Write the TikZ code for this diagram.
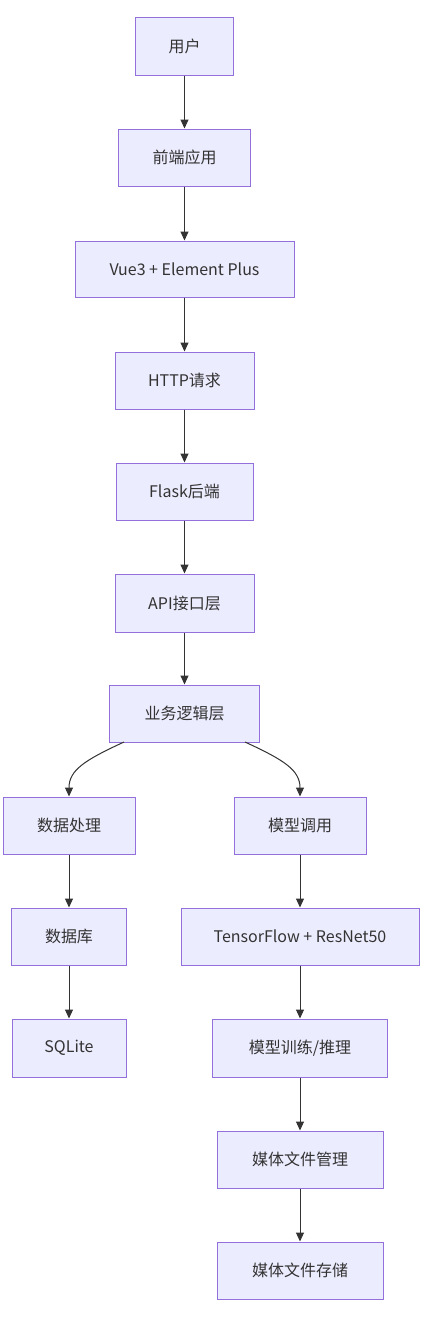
\documentclass[tikz,border=0pt]{standalone}
\usepackage{fontspec}
\setmainfont{Noto Sans CJK SC}
\usetikzlibrary{arrows.meta}
\definecolor{nodefill}{HTML}{ECECFF}
\definecolor{nodeborder}{HTML}{9370DB}
\definecolor{edgecol}{HTML}{333333}
\begin{document}
\begin{tikzpicture}[x=1pt,y=-1pt,
  box/.style={draw=nodeborder,fill=nodefill,line width=1pt,rectangle,inner sep=0pt,
    font=\fontsize{16}{19}\selectfont,text=edgecol},
  edge/.style={draw=edgecol,line width=1pt,-{Triangle[length=9pt,width=8pt]}}]
\useasboundingbox (0,0) rectangle (426,1320);
\node[box,minimum width=98pt,minimum height=58pt] (n1) at (184.5,46) {用户};
\node[box,minimum width=132pt,minimum height=57pt] (n2) at (184.5,157.5) {前端应用};
\node[box,minimum width=219pt,minimum height=56pt] (n3) at (184.5,269) {Vue3 + Element Plus};
\node[box,minimum width=139pt,minimum height=57pt] (n4) at (184.5,380.5) {HTTP请求};
\node[box,minimum width=137pt,minimum height=57pt] (n5) at (184.5,491.5) {Flask后端};
\node[box,minimum width=139pt,minimum height=58pt] (n6) at (184.5,603) {API接口层};
\node[box,minimum width=150pt,minimum height=57pt] (n7) at (184.5,713.5) {业务逻辑层};
\node[box,minimum width=132pt,minimum height=57pt] (n8) at (69,825.5) {数据处理};
\node[box,minimum width=132pt,minimum height=57pt] (n9) at (300,825.5) {模型调用};
\node[box,minimum width=115pt,minimum height=57pt] (n10) at (69,936.5) {数据库};
\node[box,minimum width=238pt,minimum height=57pt] (n11) at (300,936.5) {TensorFlow + ResNet50};
\node[box,minimum width=114pt,minimum height=58pt] (n12) at (69,1048) {SQLite};
\node[box,minimum width=175pt,minimum height=58pt] (n13) at (300,1048) {模型训练/推理};
\node[box,minimum width=166pt,minimum height=57pt] (n14) at (300,1159.5) {媒体文件管理};
\node[box,minimum width=166pt,minimum height=57pt] (n15) at (300,1270.5) {媒体文件存储};
\draw[edge] (n1) -- (n2);
\draw[edge] (n2) -- (n3);
\draw[edge] (n3) -- (n4);
\draw[edge] (n4) -- (n5);
\draw[edge] (n5) -- (n6);
\draw[edge] (n6) -- (n7);
\coordinate (l0) at (124,742);
\coordinate (r0) at (245,742);
\draw[edge] (l0) .. controls (85,760) and (69,770) .. (n8.north);
\draw[edge] (r0) .. controls (284,760) and (300,770) .. (n9.north);
\draw[edge] (n8) -- (n10);
\draw[edge] (n10) -- (n12);
\draw[edge] (n9) -- (n11);
\draw[edge] (n11) -- (n13);
\draw[edge] (n13) -- (n14);
\draw[edge] (n14) -- (n15);
\end{tikzpicture}
\end{document}
